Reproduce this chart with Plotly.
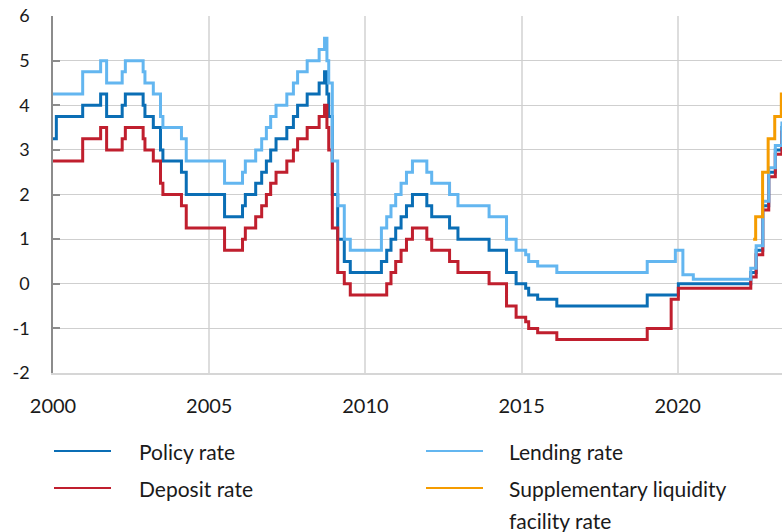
import plotly.graph_objects as go

# Policy rate, step series (change dates and new levels)
policy_dates = [
    '2000-01-01', '2000-02-09', '2000-12-13', '2001-07-11', '2001-09-19', '2002-03-20',
    '2002-04-26', '2002-11-20', '2002-12-11', '2003-03-19', '2003-06-11', '2003-07-09',
    '2004-02-11', '2004-04-07', '2005-06-29', '2006-01-25', '2006-02-27', '2006-06-28',
    '2006-09-06', '2006-10-31', '2006-12-20', '2007-02-21', '2007-06-27', '2007-09-12',
    '2007-10-31', '2008-02-20', '2008-07-09', '2008-09-10', '2008-10-08', '2008-10-29',
    '2008-12-10', '2009-02-11', '2009-04-29', '2009-07-08', '2010-07-07', '2010-09-07',
    '2010-10-27', '2010-12-21', '2011-02-22', '2011-04-26', '2011-07-05', '2011-12-20',
    '2012-02-15', '2012-09-11', '2012-12-18', '2013-12-17', '2014-07-09', '2014-10-29',
    '2015-02-18', '2015-03-25', '2015-07-08', '2016-02-17', '2019-01-09', '2020-01-08',
    '2022-05-04', '2022-07-06', '2022-09-21', '2022-11-30', '2023-02-15', '2023-05-03',
    '2023-06-30',
]
policy_rate = [
    3.25, 3.75, 4.00, 4.25, 3.75, 4.00,
    4.25, 4.00, 3.75, 3.50, 3.00, 2.75,
    2.50, 2.00, 1.50, 1.75, 2.00, 2.25,
    2.50, 2.75, 3.00, 3.25, 3.50, 3.75,
    4.00, 4.25, 4.50, 4.75, 4.25, 3.75,
    2.00, 1.00, 0.50, 0.25, 0.50, 0.75,
    1.00, 1.25, 1.50, 1.75, 2.00, 1.75,
    1.50, 1.25, 1.00, 0.75, 0.25, 0.00,
    -0.10, -0.25, -0.35, -0.50, -0.25, 0.00,
    0.25, 0.75, 1.75, 2.50, 3.00, 3.50,
    3.50,
]

lending_dates = [
    '2000-01-01', '2000-12-13', '2001-07-11', '2001-09-19', '2002-03-20', '2002-04-26',
    '2002-11-20', '2002-12-11', '2003-03-19', '2003-06-11', '2003-07-09', '2004-02-11',
    '2004-04-07', '2005-06-29', '2006-01-25', '2006-02-27', '2006-06-28', '2006-09-06',
    '2006-10-31', '2006-12-20', '2007-02-21', '2007-06-27', '2007-09-12', '2007-10-31',
    '2008-02-20', '2008-07-09', '2008-09-10', '2008-10-08', '2008-10-29', '2008-12-10',
    '2009-02-11', '2009-04-29', '2009-07-08', '2010-07-07', '2010-09-07', '2010-10-27',
    '2010-12-21', '2011-02-22', '2011-04-26', '2011-07-05', '2011-12-20', '2012-02-15',
    '2012-09-11', '2012-12-18', '2013-12-17', '2014-07-09', '2014-10-29', '2015-02-18',
    '2015-03-25', '2015-07-08', '2016-02-17', '2019-01-09', '2019-12-04', '2020-03-01',
    '2020-07-01', '2022-05-04', '2022-07-06', '2022-09-21', '2022-11-30', '2023-02-15',
    '2023-05-03', '2023-06-30',
]
lending_rate = [
    4.25, 4.75, 5.00, 4.50, 4.75, 5.00,
    4.75, 4.50, 4.25, 3.75, 3.50, 3.25,
    2.75, 2.25, 2.50, 2.75, 3.00, 3.25,
    3.50, 3.75, 4.00, 4.25, 4.50, 4.75,
    5.00, 5.25, 5.50, 5.00, 4.50, 2.75,
    1.75, 1.00, 0.75, 1.25, 1.50, 1.75,
    2.00, 2.25, 2.50, 2.75, 2.50, 2.25,
    2.00, 1.75, 1.50, 1.00, 0.75, 0.65,
    0.50, 0.40, 0.25, 0.50, 0.75, 0.20,
    0.10, 0.35, 0.85, 1.85, 2.60, 3.10,
    3.60, 3.60,
]

deposit_dates = [
    '2000-01-01', '2000-12-13', '2001-07-11', '2001-09-19', '2002-03-20', '2002-04-26',
    '2002-11-20', '2002-12-11', '2003-03-19', '2003-06-11', '2003-07-09', '2004-02-11',
    '2004-04-07', '2005-06-29', '2006-01-25', '2006-02-27', '2006-06-28', '2006-09-06',
    '2006-10-31', '2006-12-20', '2007-02-21', '2007-06-27', '2007-09-12', '2007-10-31',
    '2008-02-20', '2008-07-09', '2008-09-10', '2008-10-08', '2008-10-29', '2008-12-10',
    '2009-02-11', '2009-04-29', '2009-07-08', '2010-09-07', '2010-10-27', '2010-12-21',
    '2011-02-22', '2011-04-26', '2011-07-05', '2011-12-20', '2012-02-15', '2012-09-11',
    '2012-12-18', '2013-12-17', '2014-07-09', '2014-10-29', '2015-02-18', '2015-03-25',
    '2015-07-08', '2016-02-17', '2019-01-09', '2019-10-16', '2020-01-08', '2022-05-04',
    '2022-07-06', '2022-09-21', '2022-11-30', '2023-02-15', '2023-05-03', '2023-06-30',
]
deposit_rate = [
    2.75, 3.25, 3.50, 3.00, 3.25, 3.50,
    3.25, 3.00, 2.75, 2.25, 2.00, 1.75,
    1.25, 0.75, 1.00, 1.25, 1.50, 1.75,
    2.00, 2.25, 2.50, 2.75, 3.00, 3.25,
    3.50, 3.75, 4.00, 3.50, 3.00, 1.25,
    0.25, 0.00, -0.25, 0.00, 0.25, 0.50,
    0.75, 1.00, 1.25, 1.00, 0.75, 0.50,
    0.25, 0.00, -0.50, -0.75, -0.85, -1.00,
    -1.10, -1.25, -1.00, -0.35, -0.10, 0.15,
    0.65, 1.65, 2.40, 2.90, 3.40, 3.40,
]

slf_dates = ['2022-06-01', '2022-06-30', '2022-09-19', '2022-11-23', '2023-02-08', '2023-04-26', '2023-06-30']
slf_rate = [1.00, 1.50, 2.50, 3.25, 3.75, 4.25, 4.25]

y_tick_vals = [-2, -1, 0, 1, 2, 3, 4, 5, 6]
y_tick_labels = ['-2', '-1', '0', '1', '2', '3', '4', '5', '6']

C_POLICY = '#0a6eb5'
C_LENDING = '#63b6f0'
C_DEPOSIT = '#c01f2e'
C_SLF = '#f59c00'
FONT = 'Lato'

W, H = 782, 532
L, R, T, B = 53, 0, 16, 159


def px_x(px):
    return (px - L) / (W - L - R)


def px_y(py):
    return (H - B - py) / (H - T - B)


fig = go.Figure()
for name, x, y, color in [
    ('Policy rate', policy_dates, policy_rate, C_POLICY),
    ('Deposit rate', deposit_dates, deposit_rate, C_DEPOSIT),
    ('Lending rate', lending_dates, lending_rate, C_LENDING),
    ('Supplementary liquidity facility rate', slf_dates, slf_rate, C_SLF),
]:
    fig.add_trace(go.Scatter(x=x, y=y, name=name, mode='lines',
                             line=dict(color=color, width=3, shape='hv'), showlegend=False))

# legend drawn by hand (two columns, wide gap between key and text)
legend_items = [
    ('Policy rate', C_POLICY, 54, 451, 137),
    ('Deposit rate', C_DEPOSIT, 54, 488, 137),
    ('Lending rate', C_LENDING, 426, 451, 507),
    ('Supplementary liquidity', C_SLF, 426, 488, 507),
]
for text, color, lx, ly, tx in legend_items:
    fig.add_shape(type='line', xref='paper', yref='paper', x0=px_x(lx), x1=px_x(lx + 57),
                  y0=px_y(ly), y1=px_y(ly), line=dict(color=color, width=2))
    fig.add_annotation(text=text, xref='paper', yref='paper', x=px_x(tx), y=px_y(ly),
                       xanchor='left', yanchor='middle', showarrow=False,
                       font=dict(family=FONT, size=21, color='#1a1a1a'))
fig.add_annotation(text='facility rate', xref='paper', yref='paper', x=px_x(507), y=px_y(520),
                   xanchor='left', yanchor='middle', showarrow=False,
                   font=dict(family=FONT, size=21, color='#1a1a1a'))

fig.update_layout(
    width=W, height=H,
    margin=dict(l=L, r=R, t=T, b=B, autoexpand=False),
    plot_bgcolor='white', paper_bgcolor='white',
    font=dict(family=FONT, color='#1a1a1a'),
    showlegend=False,
    xaxis=dict(
        type='date', range=['2000-01-01', '2023-05-04'],
        tick0='2000-01-01', dtick='M60', tickformat='%Y',
        showgrid=True, gridcolor='#dddddd', gridwidth=2,
        showline=True, linecolor='#d6d6d6', linewidth=2,
        ticks='', tickfont=dict(size=20, family=FONT), ticklabelstandoff=14,
    ),
    yaxis=dict(
        range=[-2, 6], tickvals=y_tick_vals, ticktext=y_tick_labels,
        showgrid=True, gridcolor='#cfcfcf', gridwidth=1, zeroline=False,
        showline=True, linecolor='#8c8c8c', linewidth=1.5,
        ticks='inside', ticklen=7, tickcolor='#8c8c8c', tickwidth=1.5,
        tickfont=dict(size=18, family=FONT), ticklabelstandoff=18,
    ),
)

fig.write_html('out.html', config={'displayModeBar': False},
               post_script="document.body.style.margin = '0';")
